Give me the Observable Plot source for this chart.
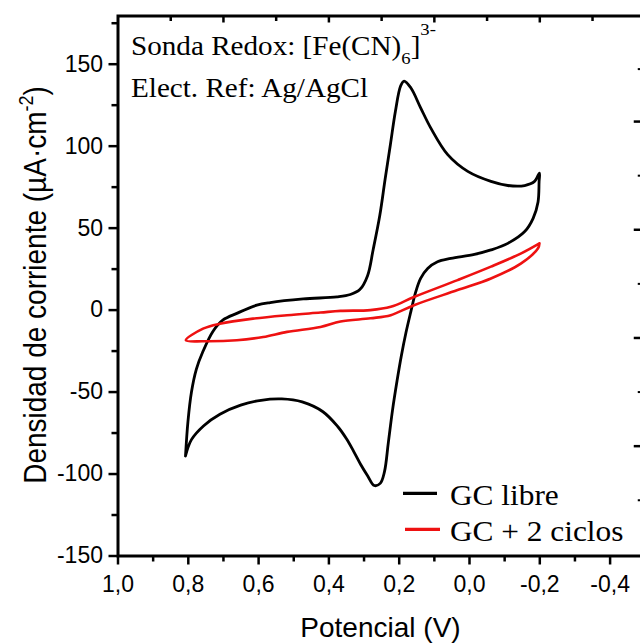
<!DOCTYPE html>
<html><head><meta charset="utf-8">
<script src="https://cdn.jsdelivr.net/npm/d3@7"></script>
<script src="https://cdn.jsdelivr.net/npm/@observablehq/plot@0.6"></script>
<style>html,body{margin:0;padding:0;background:#fff;overflow:hidden}</style>
</head><body><div id="chart"></div>
<script>
// GC libre (black loop): potential (V) and current density (µA·cm-2)
const gcLibreV = [0.808,0.801,0.791,0.777,0.759,0.730,0.701,0.662,0.605,0.567,0.473,0.377,0.339,0.312,0.290,0.274,0.255,0.240,0.225,0.211,0.196,0.186,0.167,0.139,0.110,0.062,0.005,-0.061,-0.109,-0.157,-0.185,-0.199,-0.198,-0.195,-0.181,-0.157,-0.109,-0.061,-0.014,0.053,0.091,0.119,0.139,0.153,0.167,0.181,0.194,0.206,0.219,0.231,0.242,0.254,0.271,0.290,0.310,0.330,0.350,0.375,0.417,0.476,0.534,0.593,0.651,0.710,0.756,0.791,0.808];
const gcLibreJ = [-89,-68,-50,-36,-25.6,-13,-6,-2,3,4.6,6.8,8.1,9.5,12.5,21,37,58,80,101,121,136.7,139.7,135.6,123.4,111,94.8,84.6,78.5,76,76,78.5,83.6,78.5,66,56,47.9,40.7,36.7,34,31.5,29.5,25.4,19.3,11.1,-1.1,-14,-28,-43,-61,-81,-98.7,-105.7,-107,-101,-94,-86,-78.5,-71,-62,-56,-54.2,-55,-58,-63.5,-70.5,-79,-89];
// GC + 2 ciclos (red loop)
const gcCiclosV = [-0.199,-0.147,-0.061,0.034,0.158,0.224,0.282,0.367,0.424,0.519,0.616,0.710,0.758,0.807,0.758,0.662,0.587,0.519,0.424,0.367,0.282,0.224,0.158,0.034,-0.061,-0.147,-0.195,-0.199];
const gcCiclosJ = [40.7,34.6,26.5,18.3,8,2,0,-0.5,-1.5,-3.1,-5.2,-8.3,-11.3,-18.4,-19,-18.4,-16.4,-13.3,-10.3,-7,-5,-3.1,3,12.2,19.3,28.5,37.7,40.7];

const seriesNames = ["GC libre", "GC + 2 ciclos"];
const seriesColors = ["#000000", "#ee1111"];

const xMajorTicks = [1.0, 0.8, 0.6, 0.4, 0.2, 0.0, -0.2, -0.4];
const xMinorTicks = [0.9, 0.7, 0.5, 0.3, 0.1, -0.1, -0.3];
const yMajorTicks = [-150, -100, -50, 0, 50, 100, 150];
const yMinorTicks = [-125, -75, -25, 25, 75, 125, 175];
const topMajorTicks = [0.70, 0.40, 0.10, -0.20];
const topMinorTicks = [0.85, 0.55, 0.25, -0.05, -0.35];
const rightMajorTicks = [115, 49, -17, -83];
const rightMinorTicks = [147, 82, 16, -50, -116];

const libre = gcLibreV.map((v, i) => ({v, j: gcLibreJ[i]}));
const ciclos = gcCiclosV.map((v, i) => ({v, j: gcCiclosJ[i]}));

const fmtX = d => d3.format(".1f")(d).replace("−", "-").replace(".", ",");
const blank = () => "";

const chart = Plot.plot({
  width: 640,
  height: 644,
  marginLeft: 117.5,
  marginRight: -4.75,
  marginTop: 15.5,
  marginBottom: 88.5,
  style: {fontFamily: "'Liberation Sans', Arial, sans-serif", background: "#fff", color: "#000"},
  x: {domain: [1.0, -0.5]},
  y: {domain: [-150, 179.4]},
  marks: [
    Plot.line(libre, {x: "v", y: "j", stroke: seriesColors[0], strokeWidth: 2.8, curve: "catmull-rom"}),
    Plot.line(ciclos, {x: "v", y: "j", stroke: seriesColors[1], strokeWidth: 2.6, curve: "catmull-rom"}),
    Plot.axisX({anchor: "bottom", ticks: xMajorTicks, tickSize: 9, tickPadding: 11, tickFormat: fmtX, fontSize: 23, strokeWidth: 2.5, label: null}),
    Plot.axisX({anchor: "bottom", ticks: xMinorTicks, tickSize: 6, tickFormat: blank, strokeWidth: 2.5, label: null}),
    Plot.axisX({anchor: "top", ticks: topMajorTicks, tickSize: -6, tickFormat: blank, strokeWidth: 2.5, label: null}),
    Plot.axisX({anchor: "top", ticks: topMinorTicks, tickSize: -4.5, tickFormat: blank, strokeWidth: 2.5, label: null}),
    Plot.axisY({anchor: "left", ticks: yMajorTicks, tickSize: 9, tickPadding: 6, tickFormat: d => String(d), fontSize: 23, strokeWidth: 2.5, label: null}),
    Plot.axisY({anchor: "left", ticks: yMinorTicks, tickSize: 6, tickFormat: blank, strokeWidth: 2.5, label: null}),
    Plot.axisY({anchor: "right", ticks: rightMajorTicks, tickSize: -12, tickFormat: blank, strokeWidth: 2.5, label: null}),
    Plot.axisY({anchor: "right", ticks: rightMinorTicks, tickSize: -8, tickFormat: blank, strokeWidth: 2, label: null}),
    Plot.frame({stroke: "#000", strokeWidth: 3})
  ]
});

const svg = d3.select(chart);
const serif = "'Liberation Serif', 'Times New Roman', serif";
const sans = "'Liberation Sans', Arial, sans-serif";

// Annotations
const g1 = svg.append("g").attr("transform", "translate(131,55) scale(1.1,1)");
const t1 = g1.append("text").attr("text-anchor", "start").attr("font-family", serif).attr("font-size", 26.5).attr("fill", "#000");
t1.append("tspan").text("Sonda Redox: [Fe(CN)");
t1.append("tspan").attr("font-size", 17).attr("dy", 9).text("6");
t1.append("tspan").attr("dy", -9).text("]");
t1.append("tspan").attr("font-size", 17).attr("dy", -20).text("3-");
svg.append("g").attr("transform", "translate(131,97.3) scale(1.1,1)")
  .append("text").attr("text-anchor", "start").attr("font-family", serif).attr("font-size", 26.5).attr("fill", "#000")
  .text("Elect. Ref: Ag/AgCl");

// Legend
const legendRows = [{y: 493.3, base: 505, x1: 403, x2: 437}, {y: 529.3, base: 540.5, x1: 405, x2: 440}];
seriesNames.forEach((name, i) => {
  const r = legendRows[i];
  svg.append("line").attr("x1", r.x1).attr("x2", r.x2).attr("y1", r.y).attr("y2", r.y)
    .attr("stroke", seriesColors[i]).attr("stroke-width", 3.2);
  svg.append("g").attr("transform", `translate(450,${r.base}) scale(1.1,1)`)
    .append("text").attr("text-anchor", "start").attr("font-family", serif).attr("font-size", 28.5).attr("fill", "#000").text(name);
});

// Axis titles
svg.append("text").attr("x", 380.5).attr("y", 637).attr("text-anchor", "middle")
  .attr("font-family", sans).attr("font-size", 28).attr("fill", "#000").text("Potencial (V)");
const yl = svg.append("g").attr("transform", "translate(46,285) scale(1.1,1) rotate(-90)")
  .append("text").attr("text-anchor", "middle").attr("font-family", sans).attr("font-size", 28).attr("fill", "#000");
yl.append("tspan").text("Densidad de corriente (µA·cm");
yl.append("tspan").attr("font-size", 18).attr("dy", -12).text("-2");
yl.append("tspan").attr("dy", 12).text(")");

document.getElementById("chart").appendChild(chart);
</script>
</body></html>
